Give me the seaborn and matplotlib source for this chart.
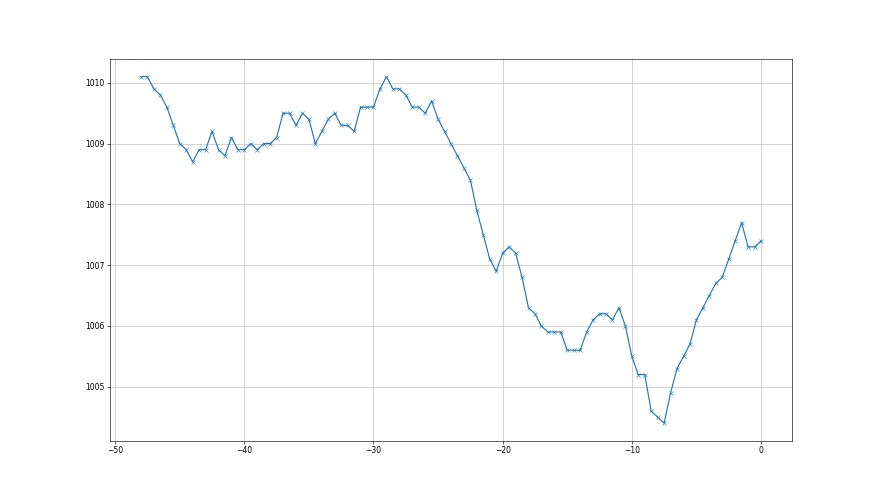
import matplotlib
matplotlib.use("Agg")
import matplotlib.pyplot as plt
import numpy as np
import pandas as pd
import seaborn as sns

# hours relative to now, 0.5 h steps
hours = np.arange(-48, 0.01, 0.5)

pressure = [
    1010.1, 1010.1, 1009.9, 1009.8, 1009.6, 1009.3, 1009.0, 1008.9, 1008.7, 1008.9,
    1008.9, 1009.2, 1008.9, 1008.8, 1009.1, 1008.9, 1008.9, 1009.0, 1008.9, 1009.0,
    1009.0, 1009.1, 1009.5, 1009.5, 1009.3, 1009.5, 1009.4, 1009.0, 1009.2, 1009.4,
    1009.5, 1009.3, 1009.3, 1009.2, 1009.6, 1009.6, 1009.6, 1009.9, 1010.1, 1009.9,
    1009.9, 1009.8, 1009.6, 1009.6, 1009.5, 1009.7, 1009.4, 1009.2, 1009.0, 1008.8,
    1008.6, 1008.4, 1007.9, 1007.5, 1007.1, 1006.9, 1007.2, 1007.3, 1007.2, 1006.8,
    1006.3, 1006.2, 1006.0, 1005.9, 1005.9, 1005.9, 1005.6, 1005.6, 1005.6, 1005.9,
    1006.1, 1006.2, 1006.2, 1006.1, 1006.3, 1006.0, 1005.5, 1005.2, 1005.2, 1004.6,
    1004.5, 1004.4, 1004.9, 1005.3, 1005.5, 1005.7, 1006.1, 1006.3, 1006.5, 1006.7,
    1006.8, 1007.1, 1007.4, 1007.7, 1007.3, 1007.3, 1007.4,
]

df = pd.DataFrame({"hours": hours, "pressure": pressure})

fig, ax = plt.subplots(figsize=(16, 9), dpi=55)
sns.lineplot(data=df, x="hours", y="pressure", ax=ax,
             marker="x", markersize=5, linewidth=1.5,
             color="tab:blue", markeredgecolor="tab:blue")

ax.set_xlabel("")
ax.set_ylabel("")
ax.set_xticks([-50, -40, -30, -20, -10, 0])
ax.set_yticks([1005, 1006, 1007, 1008, 1009, 1010])
ax.grid(True, color="#c8c8c8", linewidth=1)
ax.tick_params(labelsize=10)

fig.savefig("out.png")
